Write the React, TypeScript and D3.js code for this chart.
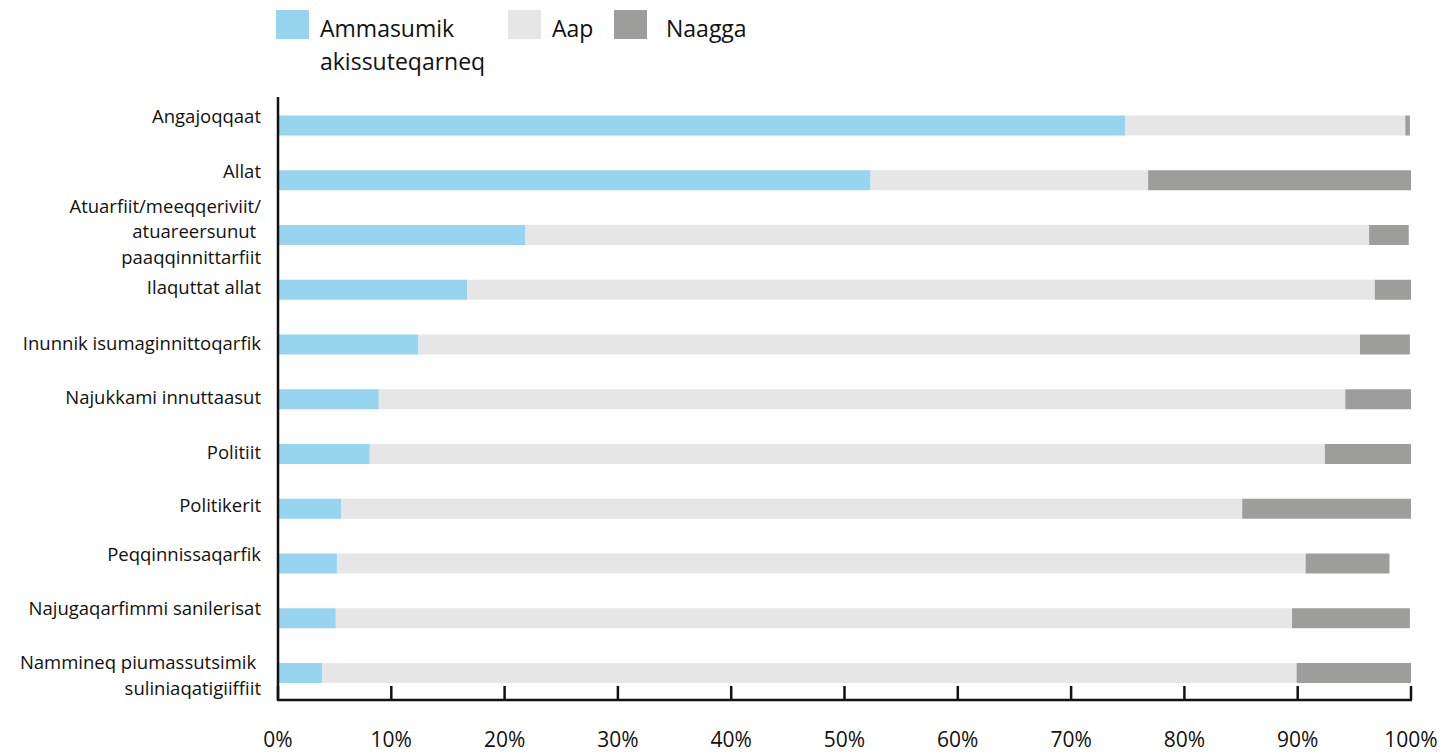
import React from "react";
import * as d3 from "d3";

const categories = [
  "Angajoqqaat",
  "Allat",
  "Atuarfiit/meeqqeriviit/\natuareersunut \npaaqqinnittarfiit",
  "Ilaquttat allat",
  "Inunnik isumaginnittoqarfik",
  "Najukkami innuttaasut",
  "Politiit",
  "Politikerit",
  "Peqqinnissaqarfik",
  "Najugaqarfimmi sanilerisat",
  "Nammineq piumassutsimik \nsuliniaqatigiiffiit",
];

const ammasumik = [74.8, 52.3, 21.8, 16.7, 12.4, 8.9, 8.1, 5.6, 5.2, 5.1, 3.9];
const aap = [24.7, 24.5, 74.5, 80.1, 83.1, 85.3, 84.3, 79.5, 85.5, 84.4, 86.0];
const naagga = [0.4, 23.2, 3.5, 3.2, 4.4, 5.8, 7.6, 14.9, 7.4, 10.4, 10.1];

const seriesNames = ["Ammasumik\nakissuteqarneq", "Aap", "Naagga"];
const seriesColors = ["#97D4EF", "#E6E6E6", "#9D9D9C"];
const tickValues = [0, 10, 20, 30, 40, 50, 60, 70, 80, 90, 100];

// small manual vertical nudges for category labels (style only)
const labelDy = [-8, -7, -2, -1, 0, 0, 0, -2, -8, -8, 4];

const FONT = "'Open Sans', sans-serif";

export default function App() {
  const W = 1442;
  const H = 754;
  const x = d3.scaleLinear().domain([0, 100]).range([278, 1411]);
  const y = d3.scalePoint<string>().domain(categories).range([125.5, 673]);
  const barH = 20;
  const axisY = 700;

  const rows = categories.map((c, i) => {
    const vals = [ammasumik[i], aap[i], naagga[i]];
    let acc = 0;
    const segs = vals.map((v, k) => {
      const s = { x0: acc, x1: acc + v, k };
      acc += v;
      return s;
    });
    return { c, i, segs };
  });

  const legendX = [276, 508, 614];

  return (
    <svg
      width={W}
      height={H}
      style={{ position: "absolute", left: 0, top: 0, background: "#fff" }}
      fontFamily={FONT}
    >
      {/* legend */}
      {seriesNames.map((n, k) => (
        <g key={n}>
          <rect x={legendX[k]} y={10} width={33} height={29} fill={seriesColors[k]} />
          <text x={legendX[k] + (k === 2 ? 52 : 44)} y={37} fontSize={23} fill="#111">
            {n.split("\n").map((line, li) => (
              <tspan key={li} x={legendX[k] + (k === 2 ? 52 : 44)} dy={li === 0 ? 0 : 33}>
                {line}
              </tspan>
            ))}
          </text>
        </g>
      ))}

      {/* bars */}
      {rows.map((r) =>
        r.segs.map((s) => (
          <rect
            key={r.c + s.k}
            x={x(s.x0)}
            y={(y(r.c) as number) - barH / 2}
            width={Math.max(0, x(s.x1) - x(s.x0))}
            height={barH}
            fill={seriesColors[s.k]}
          />
        ))
      )}

      {/* category labels */}
      {rows.map((r) => {
        const lines = r.c.split("\n");
        const lh = 25.5;
        const cy = (y(r.c) as number) + labelDy[r.i];
        const startY = cy - ((lines.length - 1) * lh) / 2;
        return (
          <text
            key={"l" + r.i}
            x={261}
            textAnchor="end"
            fontSize={18.5}
            fill="#111"
            dominantBaseline="middle"
          >
            {lines.map((line, li) => (
              <tspan key={li} x={261} y={startY + li * lh}>
                {line}
              </tspan>
            ))}
          </text>
        );
      })}

      {/* axes */}
      <line x1={278} x2={278} y1={97} y2={axisY + 1} stroke="#111" strokeWidth={2.5} />
      <line x1={277} x2={x(100) + 1} y1={axisY} y2={axisY} stroke="#111" strokeWidth={2.5} />
      {tickValues.map((t) => (
        <g key={t}>
          <line x1={x(t)} x2={x(t)} y1={axisY} y2={axisY - 14} stroke="#111" strokeWidth={2.5} />
          <text
            x={x(t)}
            y={747}
            textAnchor="middle"
            fontSize={21}
            fill="#111"
          >
            {t + "%"}
          </text>
        </g>
      ))}
    </svg>
  );
}
